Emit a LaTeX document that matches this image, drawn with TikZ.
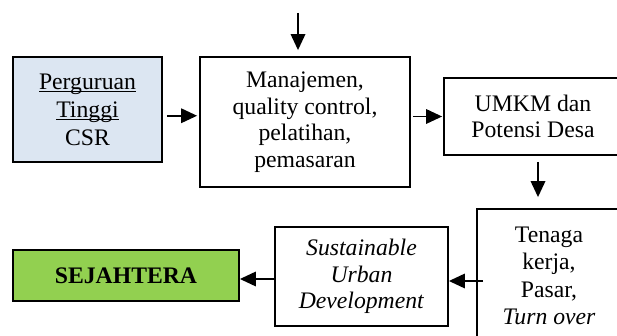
\documentclass[tikz,border=0pt]{standalone}
\usepackage{fontspec}
\setmainfont{Liberation Serif}
\usetikzlibrary{arrows.meta,calc}
\definecolor{boxblue}{HTML}{DCE6F2}
\definecolor{boxgreen}{HTML}{92D050}
\newcommand\myul[1]{\setbox0\hbox{#1}\rlap{\rule[-3pt]{\wd0}{1.5pt}}\box0}
\begin{document}
\begin{tikzpicture}[x=1pt,y=-1pt,
  box/.style={draw, line width=1.8pt, align=center, inner sep=0pt,
    font=\fontsize{23.7}{26.5}\selectfont},
  arr/.style={line width=1.8pt, -{Triangle[length=16pt,width=14.5pt]}}]
\useasboundingbox (0,0) rectangle (617,336);

\node[box, fill=boxblue, minimum width=149pt, minimum height=105pt,
  font=\fontsize{23.7}{28}\selectfont] (pt) at (87.5,109.5)
  {\myul{Perguruan}\\\myul{Tinggi}\\CSR};
\node[box, minimum width=210pt, minimum height=130pt] (mgmt) at (305,122)
  {Manajemen,\\quality control,\\pelatihan,\\pemasaran};
\node[box, minimum width=178pt, minimum height=77pt] (umkm) at (533,116.5)
  {UMKM dan\\Potensi Desa};
\node[box, minimum width=144pt, minimum height=134pt,
  font=\fontsize{23.7}{27.5}\selectfont] (tenaga) at (549,276)
  {Tenaga\\kerja,\\Pasar,\\\textit{Turn over}};
\node[box, minimum width=173pt, minimum height=99pt] (sust) at (361.5,276.5)
  {\textit{Sustainable}\\\textit{Urban}\\\textit{Development}};
\node[box, fill=boxgreen, minimum width=226pt, minimum height=51pt] (sej) at (126,275.5)
  {\textbf{SEJAHTERA}};

\coordinate (top) at (298,13);
\path ($(pt.east)!.5!(mgmt.west)$) coordinate (m12);
\coordinate (c34) at ($(umkm.south)+(5,0)$);
\coordinate (c45) at ($(sust.east)+(0,4.5)$);
\coordinate (c56) at ($(sej.east)+(0,3.5)$);

\draw[arr, shorten >=6pt] (top) -- (top |- mgmt.north);
\draw[arr, shorten <=4pt, shorten >=2pt] (pt.east |- m12) -- (mgmt.west |- m12);
\draw[arr, shorten <=2pt, shorten >=1pt] (mgmt.east |- umkm.west) -- (umkm.west);
\draw[arr, shorten <=6pt, shorten >=11pt] (c34) -- (c34 |- tenaga.north);
\draw[arr] ([xshift=7pt]tenaga.west |- c45) -- (c45);
\draw[arr] (sust.west |- c56) -- (sej.east |- c56);
\end{tikzpicture}
\end{document}
